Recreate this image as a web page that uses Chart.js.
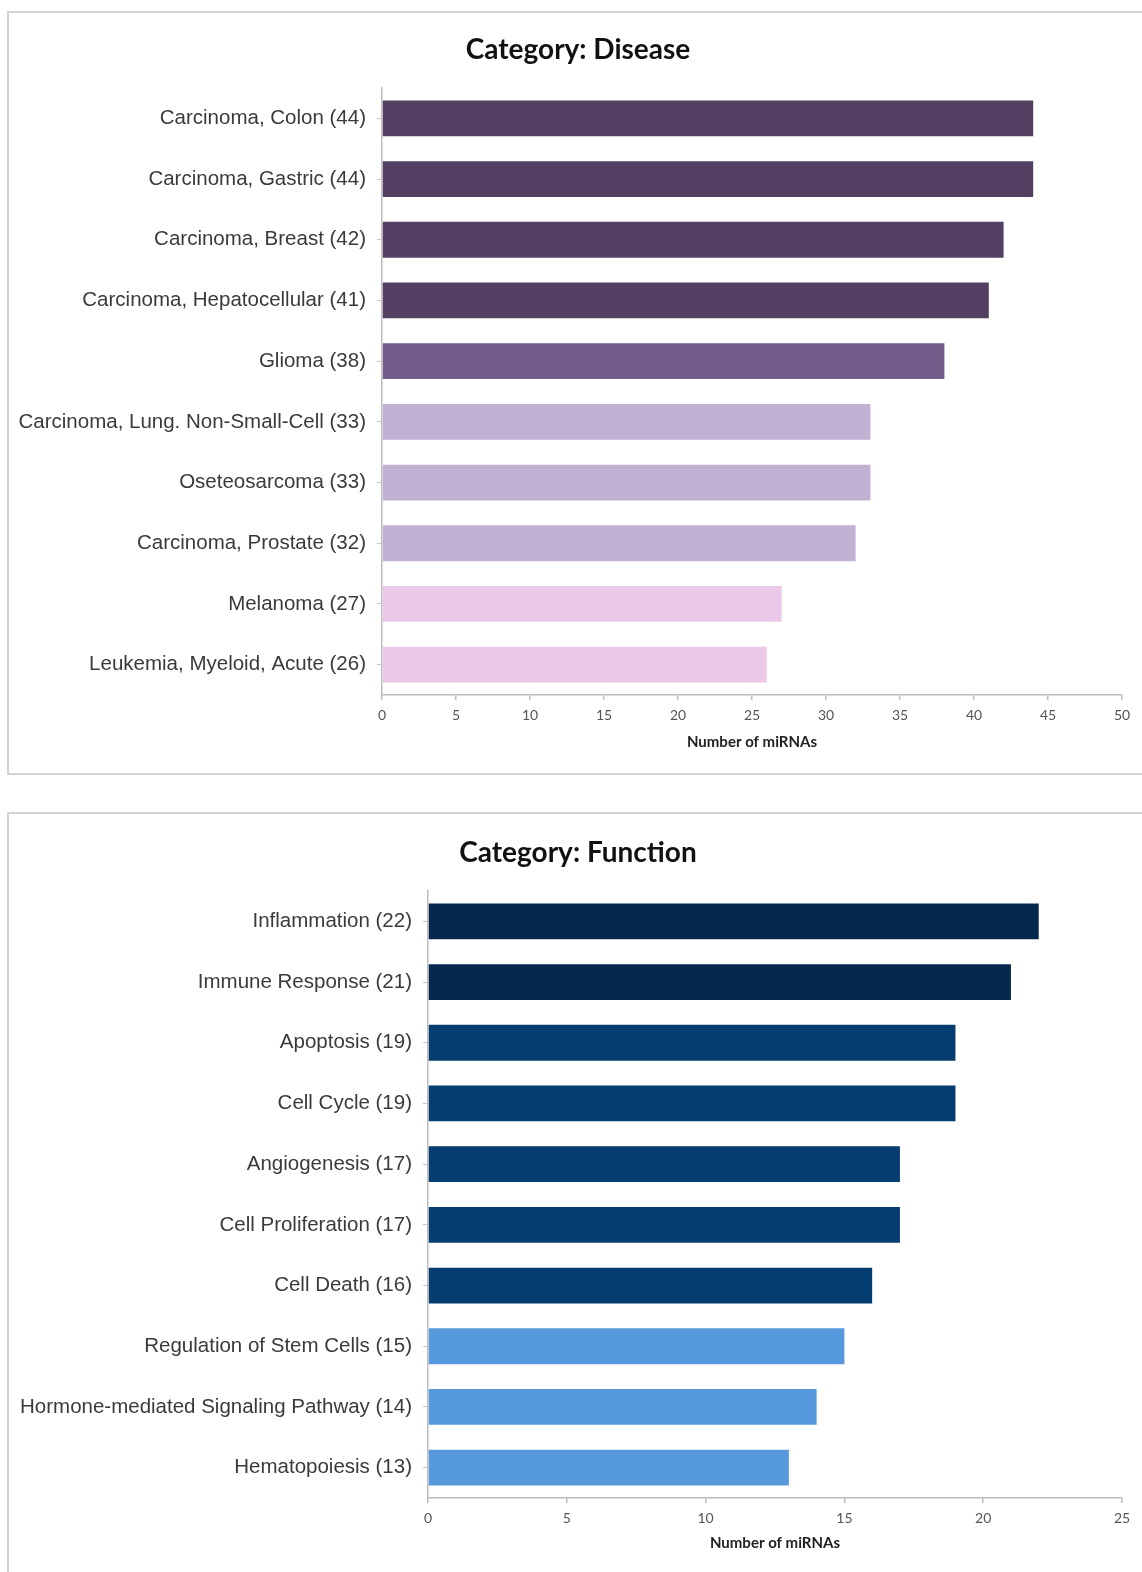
<!DOCTYPE html>
<html>
<head>
<meta charset="utf-8">
<title>miRNA categories</title>
<script src="https://cdn.jsdelivr.net/npm/chart.js@4.4.1/dist/chart.umd.min.js"></script>
<style>
  html, body { margin: 0; padding: 0; background: #fff; overflow: hidden; }
  body { width: 1142px; height: 1572px; position: relative; }
  .frame { position: absolute; left: 7px; border: 2px solid #d2d2d2; }
  #frameDisease { top: 11px; width: 1160px; height: 760px; }
  #frameFunction { top: 812px; width: 1160px; height: 800px; }
  .plot { position: absolute; left: 0; }
  #wrapDisease { top: 0; width: 1142px; height: 790px; }
  #wrapFunction { top: 803px; width: 1142px; height: 769px; }
</style>
</head>
<body>
<div class="frame" id="frameDisease"></div>
<div class="frame" id="frameFunction"></div>
<div class="plot" id="wrapDisease"><canvas id="diseaseChart"></canvas></div>
<div class="plot" id="wrapFunction"><canvas id="functionChart"></canvas></div>

<script>
// disease terms and how many miRNAs are linked to each
const diseaseNames = [
    'Carcinoma, Colon', 'Carcinoma, Gastric', 'Carcinoma, Breast', 'Carcinoma, Hepatocellular',
    'Glioma', 'Carcinoma, Lung. Non-Small-Cell', 'Oseteosarcoma', 'Carcinoma, Prostate',
    'Melanoma', 'Leukemia, Myeloid, Acute'
];
const diseaseCounts = [44, 44, 42, 41, 38, 33, 33, 32, 27, 26];
const diseaseMax = 50;

// function terms
const functionNames = [
    'Inflammation', 'Immune Response', 'Apoptosis', 'Cell Cycle', 'Angiogenesis',
    'Cell Proliferation', 'Cell Death', 'Regulation of Stem Cells',
    'Hormone-mediated Signaling Pathway', 'Hematopoiesis'
];
const functionCounts = [22, 21, 19, 19, 17, 17, 16, 15, 14, 13];
const functionMax = 25;

const tickStep = 5;
const axisTitle = 'Number of miRNAs';

// bar colours, one per row
const diseaseColors = [
    '#523f62', '#523f62', '#523f62', '#523f62', '#735b8a',
    '#c1b1d3', '#c1b1d3', '#c1b1d3', '#ebc8e8', '#ebc8e8'
];
const functionColors = [
    '#05284f', '#05284f', '#063d71', '#063d71', '#063d71',
    '#063d71', '#063d71', '#5599dc', '#5599dc', '#5599dc'
];

// panel heading, drawn a bit right of the canvas centre
const headingPlugin = {
    id: 'heading',
    afterDraw(chart, args, opts) {
        const ctx = chart.ctx;
        ctx.save();
        ctx.font = 'bold 28px Lato, "Open Sans", sans-serif';
        ctx.fillStyle = '#111';
        ctx.textAlign = 'center';
        ctx.textBaseline = 'middle';
        ctx.fillText(opts.text, opts.x, opts.y);
        ctx.restore();
    }
};

// plot area edges are pinned so both panels line up with their frames
function makeChart(canvasId, title, names, counts, colors, xMax, leftEdge, bottomPad, axisHeight) {
    const labels = names.map((n, i) => n + ' (' + counts[i] + ')');
    return new Chart(document.getElementById(canvasId), {
        type: 'bar',
        data: {
            labels: labels,
            datasets: [{
                data: counts,
                backgroundColor: colors,
                borderWidth: 0,
                categoryPercentage: 1,
                barPercentage: 0.59
            }]
        },
        plugins: [headingPlugin],
        options: {
            indexAxis: 'y',
            responsive: true,
            maintainAspectRatio: false,
            animation: false,
            layout: { padding: { top: 88, left: 0, right: 20, bottom: bottomPad } },
            plugins: {
                legend: { display: false },
                tooltip: { enabled: false },
                title: { display: false },
                heading: { text: title, x: 578, y: 49.5 }
            },
            scales: {
                x: {
                    min: 0,
                    max: xMax,
                    ticks: {
                        stepSize: tickStep,
                        color: '#555',
                        padding: 7,
                        font: { family: 'Lato, "Liberation Sans Narrow", sans-serif', size: 14 }
                    },
                    grid: {
                        drawOnChartArea: false,
                        drawTicks: true,
                        tickLength: 5,
                        color: '#bdbdbd',
                        lineWidth: 1.5
                    },
                    border: { display: true, color: '#bdbdbd', width: 1.5 },
                    title: {
                        display: true,
                        text: axisTitle,
                        color: '#222',
                        font: { family: 'Lato, "Open Sans", sans-serif', size: 15, weight: 'bold', lineHeight: 1.2 },
                        padding: { top: 4, bottom: 2 }
                    },
                    afterFit: function(scale) { scale.height = axisHeight; }
                },
                y: {
                    ticks: {
                        color: '#3a3a3a',
                        padding: 11,
                        font: { family: '"Liberation Sans", Arial, sans-serif', size: 20.5 }
                    },
                    grid: {
                        offset: false,
                        drawOnChartArea: false,
                        drawTicks: true,
                        tickLength: 5,
                        color: '#c4c4c4',
                        lineWidth: 1
                    },
                    border: { display: true, color: '#bdbdbd', width: 1.5 },
                    afterFit: function(scale) { scale.width = leftEdge; }
                }
            }
        }
    });
}

makeChart('diseaseChart', 'Category: Disease', diseaseNames, diseaseCounts, diseaseColors,
    diseaseMax, 382, 37, 58);
makeChart('functionChart', 'Category: Function', functionNames, functionCounts, functionColors,
    functionMax, 428, 18, 56);
</script>
</body>
</html>
